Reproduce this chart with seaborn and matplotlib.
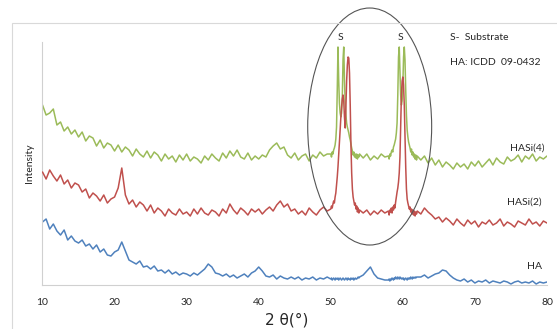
import numpy as np
import pandas as pd
import seaborn as sns
import matplotlib.pyplot as plt
from matplotlib.patches import Ellipse, Rectangle

# --- 2-theta sampling grid (coarse background, fine around substrate peaks) ---
seg_a = np.round(np.arange(10.0, 50.0, 0.5), 2)   # 80 pts
seg_b = np.round(np.arange(50.0, 54.05, 0.1), 2)  # 41 pts
seg_c = np.round(np.arange(54.5, 58.0, 0.5), 2)   # 7 pts
seg_d = np.round(np.arange(58.0, 62.05, 0.1), 2)  # 41 pts
seg_e = np.round(np.arange(62.5, 80.05, 0.5), 2)  # 36 pts
two_theta = np.concatenate([seg_a, seg_b, seg_c, seg_d, seg_e])

# --- intensities (arbitrary units) ---
ha = [
    63, 66, 56, 61, 54, 50, 55, 45, 49, 44,
    42, 45, 39, 41, 36, 40, 33, 36, 30, 29,
    33, 35, 43, 34, 25, 23, 21, 24, 18, 19,
    16, 19, 14, 15, 12, 15, 11, 13, 10, 12,
    11, 9, 12, 10, 13, 16, 21, 18, 12, 11,
    9, 11, 8, 10, 7, 9, 11, 8, 12, 14,
    18, 14, 9, 8, 10, 6, 9, 7, 6, 8,
    6, 8, 5, 7, 6, 8, 5, 7, 6, 8,
    # 50.0 - 54.0
    6, 7, 5, 6, 7, 6, 5, 7, 6, 6,
    7, 5, 6, 7, 6, 5, 6, 7, 6, 5,
    6, 7, 6, 5, 7, 6, 6, 5, 7, 6,
    6, 7, 5, 6, 7, 6, 6, 7, 8, 7,
    8,
    # 54.5 - 57.5
    10, 14, 18, 11, 7, 6, 5,
    # 58.0 - 62.0
    5, 6, 4, 6, 5, 7, 6, 5, 7, 6,
    8, 7, 6, 8, 7, 6, 8, 7, 6, 7,
    6, 7, 5, 6, 7, 6, 5, 7, 6, 7,
    6, 8, 7, 6, 8, 7, 7, 8, 7, 8,
    8,
    # 62.5 - 80.0
    8, 10, 7, 9, 11, 12, 15, 14, 10, 7,
    5, 4, 6, 3, 5, 2, 4, 3, 5, 2,
    4, 3, 2, 4, 3, 1, 3, 4, 2, 3,
    2, 4, 1, 3, 2, 3,
]

hasi2 = [
    113, 106, 115, 109, 104, 110, 101, 105, 97, 102,
    100, 93, 96, 87, 92, 89, 84, 90, 82, 86,
    88, 97, 117, 90, 81, 85, 78, 83, 80, 74,
    80, 72, 77, 74, 69, 76, 72, 70, 76, 71,
    73, 69, 76, 71, 77, 72, 70, 75, 73, 69,
    76, 72, 81, 75, 71, 77, 74, 70, 76, 73,
    76, 71, 75, 78, 74, 80, 84, 78, 81, 74,
    76, 71, 74, 70, 77, 73, 70, 75, 78, 74,
    # 50.0 - 54.0
    76, 79, 77, 81, 84, 82, 88, 92, 100, 108,
    118, 130, 142, 155, 168, 178, 186, 190, 184, 168,
    157, 178, 204, 220, 228, 227, 212, 180, 140, 112,
    96, 88, 84, 80, 82, 76, 79, 73, 77, 72,
    75,
    # 54.5 - 57.5
    72, 75, 70, 74, 71, 75, 72,
    # 58.0 - 62.0
    74, 70, 75, 73, 77, 72, 78, 75, 80, 77,
    83, 88, 93, 97, 103, 112, 128, 160, 190, 204,
    208, 200, 180, 150, 118, 96, 86, 82, 79, 76,
    78, 73, 76, 71, 75, 70, 74, 69, 73, 71,
    74,
    # 62.5 - 80.0
    71, 77, 73, 70, 66, 68, 63, 67, 64, 60,
    66, 62, 59, 65, 61, 64, 58, 63, 61, 65,
    60, 62, 66, 59, 63, 61, 58, 64, 62, 60,
    66, 61, 63, 59, 64, 62,
]

hasi4 = [
    180, 170, 172, 176, 160, 163, 154, 158, 151, 155,
    148, 153, 144, 149, 147, 139, 145, 137, 142, 140,
    134, 140, 133, 138, 135, 129, 136, 131, 128, 134,
    127, 133, 130, 124, 131, 126, 129, 123, 130, 125,
    131, 124, 128, 126, 122, 129, 125, 131, 127, 124,
    132, 127, 134, 129, 135, 128, 126, 132, 125, 129,
    126, 130, 128, 135, 139, 142, 136, 138, 130, 127,
    132, 125, 129, 131, 124, 130, 127, 133, 129, 131,
    # 50.0 - 54.0
    131, 128, 133, 131, 135, 137, 140, 146, 158, 195,
    238, 205, 182, 172, 168, 172, 188, 225, 238, 205,
    182, 170, 162, 158, 155, 152, 148, 145, 141, 137,
    134, 130, 133, 128, 131, 127, 131, 126, 130, 128,
    131,
    # 54.5 - 57.5
    127, 131, 125, 129, 126, 131, 128,
    # 58.0 - 62.0
    129, 126, 131, 129, 133, 135, 133, 138, 140, 143,
    146, 152, 162, 190, 228, 238, 212, 190, 180, 184,
    200, 228, 238, 225, 195, 170, 155, 148, 143, 140,
    137, 133, 136, 130, 133, 128, 131, 126, 130, 125,
    129,
    # 62.5 - 80.0
    125, 129, 122, 127, 120, 125, 118, 123, 120, 116,
    122, 118, 121, 116, 123, 119, 124, 118, 122, 126,
    120, 127, 123, 121, 128, 124, 126, 130, 123, 129,
    126, 131, 124, 128, 126, 129,
]

series = ["HASi(4)", "HASi(2)", "HA"]
colors = ["#9bbb59", "#c0504d", "#4f81bd"]

df = pd.DataFrame({
    "two_theta": np.tile(two_theta, 3),
    "intensity": np.concatenate([hasi4, hasi2, ha]),
    "sample": np.repeat(series, len(two_theta)),
})

sns.set_style("white")
plt.rcParams['font.family'] = ['Lato', 'DejaVu Sans']

fig = plt.figure(figsize=(5.57, 3.29), dpi=100)
ax = fig.add_axes([0.0763, 0.1337, 0.9057, 0.7386])

sns.lineplot(data=df, x="two_theta", y="intensity", hue="sample",
             hue_order=series, palette=colors, estimator=None,
             linewidth=1.1, legend=False, ax=ax)
# red drawn on top of green like the original
ax.lines[1].set_zorder(3)

ax.set_xlim(10, 80)
ax.set_ylim(0, 243)
ax.set_xticks([10, 20, 30, 40, 50, 60, 70, 80])
ax.set_yticks([])
ax.tick_params(axis='x', length=3, color='#bfbfbf', labelsize=7.5, pad=6)
ax.set_xlabel("2 θ(°)", fontsize=11, labelpad=2, family=['DejaVu Sans'])
ax.set_ylabel("Intensity", fontsize=7.5, labelpad=6)
ax.xaxis.set_label_coords(0.485, -0.115)

for side in ['top', 'right']:
    ax.spines[side].set_visible(False)
for side in ['left', 'bottom']:
    ax.spines[side].set_color('#d0d0d0')
    ax.spines[side].set_linewidth(0.8)

# substrate ellipse
ell = Ellipse((55.4, 158.5), 17.2, 237, fill=False, edgecolor='#555555',
              linewidth=0.8, clip_on=False, zorder=4)
ax.add_patch(ell)

ax.text(51.3, 248, "S", fontsize=7.5, ha='center', va='center')
ax.text(59.7, 248, "S", fontsize=7.5, ha='center', va='center')
ax.text(66.5, 248, "S-  Substrate", fontsize=7.5, ha='left', va='center')
ax.text(66.5, 223, "HA: ICDD  09-0432", fontsize=7.5, ha='left', va='center')
ax.text(79.6, 137, "HASi(4)", fontsize=7.5, ha='right', va='center')
ax.text(79.3, 83, "HASi(2)", fontsize=7.5, ha='right', va='center')
ax.text(79.3, 19, "HA", fontsize=7.5, ha='right', va='center')

# chart-area border
fig.patches.append(Rectangle((12 / 557, -0.01), 1.0, 0.94, transform=fig.transFigure,
                             fill=False, edgecolor='#d9d9d9', linewidth=0.8))

plt.savefig("out.png", dpi=100)
